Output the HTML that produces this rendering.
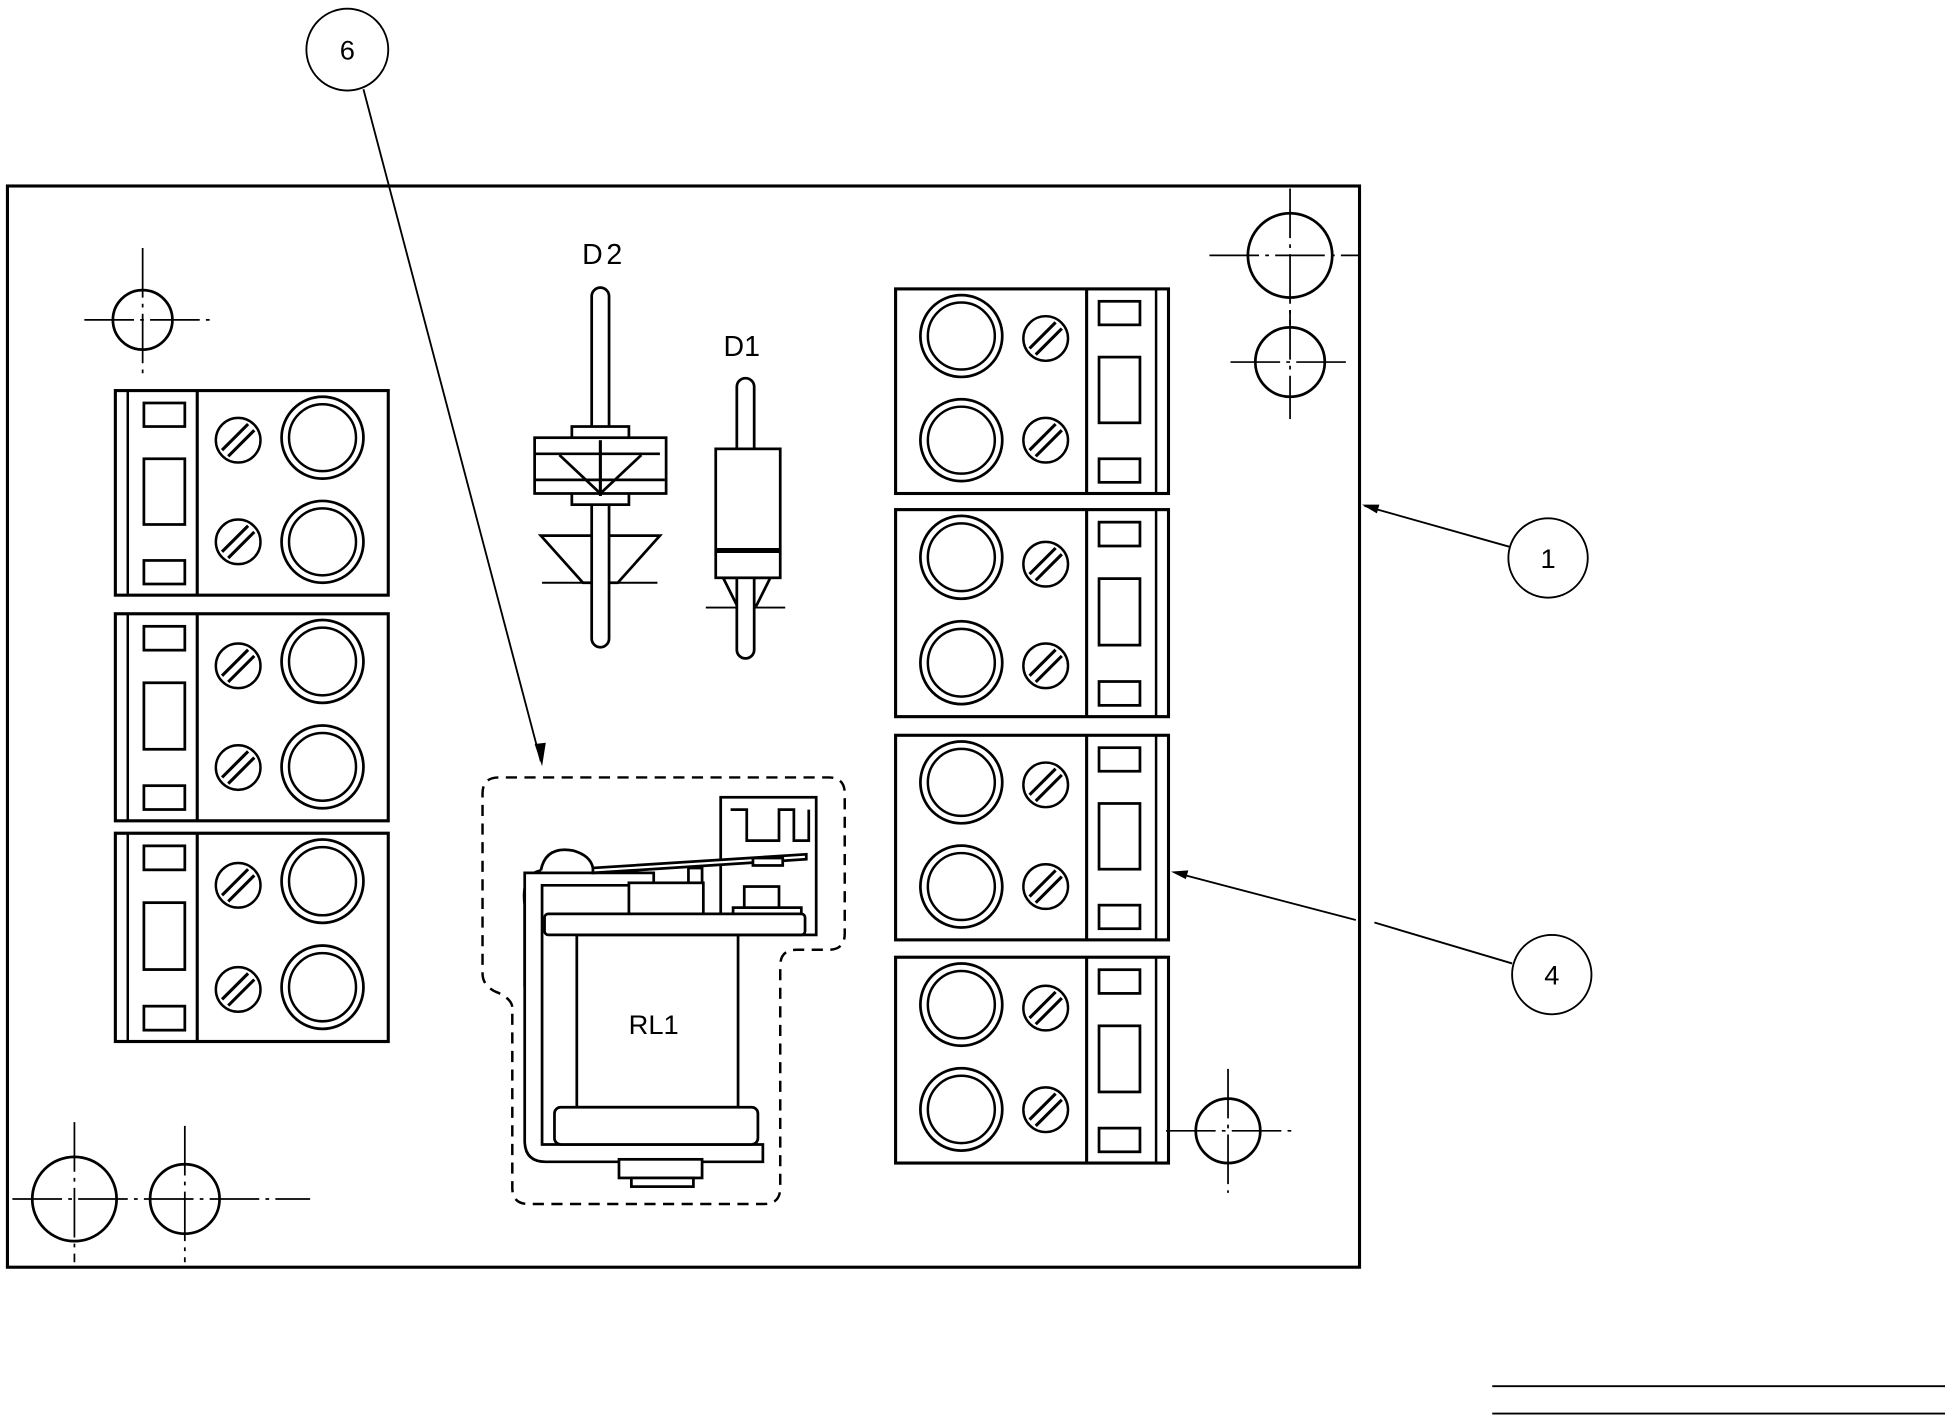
<!DOCTYPE html>
<html><head><meta charset="utf-8"><style>html,body{margin:0;padding:0;background:#fff}svg{display:block}</style></head>
<body>
<svg width="1945" height="1416" viewBox="0 0 1568 1142" preserveAspectRatio="none" xmlns="http://www.w3.org/2000/svg" font-family="Liberation Sans, sans-serif">
<defs>
<g id="tb" fill="none" stroke="#000">
<rect x="0" y="0" width="220" height="165" stroke-width="2.5"/>
<line x1="154" y1="0" x2="154" y2="165" stroke-width="2.5"/>
<line x1="210" y1="0" x2="210" y2="165" stroke-width="2"/>
<circle cx="53" cy="38" r="33" stroke-width="2.2"/><circle cx="53" cy="38" r="27" stroke-width="2"/>
<circle cx="53" cy="122" r="33" stroke-width="2.2"/><circle cx="53" cy="122" r="27" stroke-width="2"/>
<rect x="164" y="10" width="33" height="19" stroke-width="2.2"/>
<rect x="164" y="55" width="33" height="53" stroke-width="2.2"/>
<rect x="164" y="137" width="33" height="19" stroke-width="2.2"/>
</g>
<g id="sc" fill="none" stroke="#000" stroke-width="2">
<circle cx="0" cy="0" r="18"/>
<line x1="-13" y1="8" x2="8" y2="-13" stroke-width="2.5"/>
<line x1="-8" y1="13" x2="13" y2="-8" stroke-width="2.5"/>
</g>
</defs>
<rect width="1568" height="1142" fill="#fff"/>
<!-- board -->
<rect x="6" y="150" width="1090" height="872" fill="none" stroke="#000" stroke-width="2.5"/>

<!-- right terminal blocks -->
<use href="#tb" transform="translate(722,233)"/>
<use href="#sc" x="843" y="273"/><use href="#sc" x="843" y="355"/>
<use href="#tb" transform="translate(722,411) scale(1,1.012)"/>
<use href="#sc" x="843" y="455"/><use href="#sc" x="843" y="537"/>
<use href="#tb" transform="translate(722,593)"/>
<use href="#sc" x="843" y="633"/><use href="#sc" x="843" y="715"/>
<use href="#tb" transform="translate(722,772) scale(1,1.006)"/>
<use href="#sc" x="843" y="813"/><use href="#sc" x="843" y="895"/>

<!-- left terminal blocks (mirrored) -->
<use href="#tb" transform="translate(313,315) scale(-1,1)"/>
<use href="#sc" x="192" y="355"/><use href="#sc" x="192" y="437"/>
<use href="#tb" transform="translate(313,495) scale(-1,1.012)"/>
<use href="#sc" x="192" y="537"/><use href="#sc" x="192" y="619"/>
<use href="#tb" transform="translate(313,672) scale(-1,1.018)"/>
<use href="#sc" x="192" y="714"/><use href="#sc" x="192" y="798"/>

<!-- mounting holes -->
<g fill="none" stroke="#000">
<g stroke-width="2.2"><circle cx="115" cy="258" r="24"/><circle cx="60" cy="967" r="34"/><circle cx="149" cy="967" r="28"/><circle cx="1040" cy="206" r="34"/><circle cx="1040" cy="292" r="28"/><circle cx="990" cy="912" r="26"/></g>
<g stroke-width="1.4" stroke-dasharray="40,5,3,5">
<line x1="68" y1="258" x2="172" y2="258"/><line x1="115" y1="200" x2="115" y2="305"/>
<line x1="10" y1="967" x2="250" y2="967"/><line x1="60" y1="905" x2="60" y2="1018"/><line x1="149" y1="908" x2="149" y2="1018"/>
<line x1="975" y1="206" x2="1096" y2="206"/><line x1="1040" y1="152" x2="1040" y2="262"/>
<line x1="992" y1="292" x2="1090" y2="292"/><line x1="1040" y1="250" x2="1040" y2="338"/>
<line x1="940" y1="912" x2="1046" y2="912"/><line x1="990" y1="862" x2="990" y2="962"/>
</g>
</g>

<!-- diode D2 -->
<g fill="#fff" stroke="#000" stroke-width="2.2">
<line x1="437" y1="470" x2="530" y2="470" stroke-width="1.6"/>
<path d="M436 432 L532 432 L498 470 L470 470 Z"/>
<rect x="477" y="232" width="14" height="290" rx="7"/>
<rect x="461" y="344" width="46" height="10"/>
<rect x="461" y="397" width="46" height="10"/>
<rect x="431" y="353" width="106" height="45"/>
<line x1="432" y1="366" x2="532" y2="366"/>
<line x1="432" y1="387" x2="536" y2="387"/>
<path d="M451 367 L484 398 L517 367" fill="none"/>
<line x1="484" y1="355" x2="484" y2="400" stroke-width="2.5"/>
</g>
<text x="487" y="213" font-size="23" text-anchor="middle" letter-spacing="3">D2</text>

<!-- diode D1 -->
<g fill="#fff" stroke="#000" stroke-width="2.2">
<line x1="569" y1="490" x2="633" y2="490" stroke-width="1.6"/>
<path d="M583 466 L621 466 L610 488 L594 488 Z"/>
<rect x="594" y="305" width="14" height="226" rx="7"/>
<rect x="577" y="362" width="52" height="104"/>
<line x1="577" y1="444" x2="629" y2="444" stroke-width="4"/>
</g>
<text x="598" y="287" font-size="23" text-anchor="middle">D1</text>

<!-- relay dashed outline -->
<path d="M413 812 Q412 805 400 800 Q389 795 389 785 L389 640 Q389 627 402 627 L668 627 Q681 627 681 640 L681 753 Q681 766 668 766 L642 766 Q629 766 629 779 L629 958 Q629 971 616 971 L426 971 Q413 971 413 958 Z" fill="none" stroke="#000" stroke-width="2" stroke-dasharray="9,6"/>

<!-- relay -->
<g fill="#fff" stroke="#000" stroke-width="2.2">
<rect x="581" y="643" width="77" height="111"/>
<path d="M589 653 L602 653 L602 678 L608 678 L628 678 L628 653 L640 653 L640 678 L652 678 L652 653" fill="none"/>
<path d="M436 702 Q440 682 462 686 Q476 690 478 700" fill="none"/>
<path d="M423 796 L423 730 Q420 705 436 702" fill="none"/>
<path d="M423 704 L423 920 Q423 937 440 937 L615 937 L615 923 L437 923 L437 714 L527 714 L527 704 Z"/>
<path d="M478 700 L650 689 L650 693 L478 704 Z"/>
<rect x="607" y="692" width="24" height="6"/>
<path d="M555 714 L555 700 L566 700 L566 738 L555 738 Z"/>
<rect x="507" y="712" width="60" height="26"/>
<rect x="600" y="715" width="28" height="23"/>
<rect x="591" y="732" width="55" height="13"/>
<rect x="465" y="754" width="130" height="139"/>
<rect x="439" y="737" width="210" height="17" rx="3"/>
<rect x="447" y="893" width="164" height="30" rx="5"/>
<rect x="499" y="935" width="67" height="15"/>
<rect x="509" y="950" width="50" height="7"/>
</g>
<text x="527" y="834" font-size="22" text-anchor="middle">RL1</text>

<!-- callouts -->
<g fill="none" stroke="#000" stroke-width="1.5">
<circle cx="280" cy="40" r="33"/>
<line x1="293" y1="72" x2="436" y2="614"/>
<circle cx="1248" cy="450" r="32"/>
<line x1="1217" y1="441" x2="1100" y2="408"/>
<circle cx="1251" cy="786" r="32"/>
<line x1="1219" y1="777" x2="1108" y2="744"/>
<line x1="1093" y1="742" x2="948" y2="704"/>
<line x1="1203" y1="1118" x2="1568" y2="1118"/>
<line x1="1203" y1="1140" x2="1568" y2="1140"/>
</g>
<g fill="#000">
<path d="M437 618 L431 600 L440 599 Z"/>
<path d="M1098 407 L1112 407 L1110 414 Z"/>
<path d="M944 703 L958 702 L956 709 Z"/>
</g>
<g font-size="22" text-anchor="middle">
<text x="280" y="48">6</text>
<text x="1248" y="458">1</text>
<text x="1251" y="794">4</text>
</g>
</svg>
</body></html>
